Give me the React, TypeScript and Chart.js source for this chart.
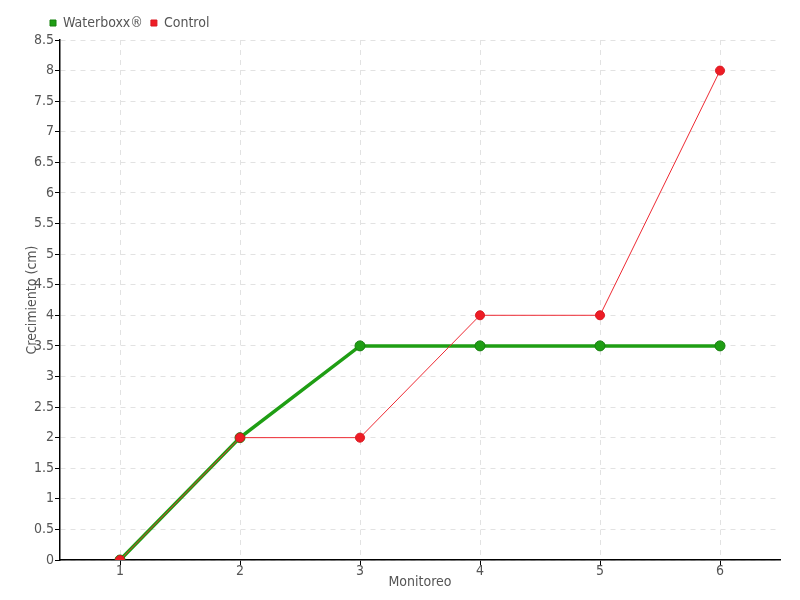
import React, { useEffect, useRef } from "react";
import { Chart, registerables } from "chart.js";

Chart.register(...registerables);

const categories = ["1", "2", "3", "4", "5", "6"];
const waterboxx = [0, 2, 3.5, 3.5, 3.5, 3.5];
const control = [0, 2, 2, 4, 4, 8];

const FONT = "'DejaVu Sans Condensed', 'Liberation Sans Narrow', sans-serif";
const TEXT = "#555555";
const GRID = "#e2e2e2";

const legendShift = {
  id: "legendShift",
  afterLayout(chart: any) {
    if (chart.legend) {
      chart.legend.left += 42;
      chart.legend.right += 42;
    }
  },
};

export default function App() {
  const ref = useRef<HTMLCanvasElement | null>(null);
  useEffect(() => {
    if (!ref.current) return;
    const chart = new Chart(ref.current, {
      type: "line",
      plugins: [legendShift],
      data: {
        labels: categories,
        datasets: [
          {
            label: "Waterboxx®",
            data: waterboxx,
            borderColor: "#1f9e14",
            backgroundColor: "#1f9e14",
            borderWidth: 3.5,
            pointRadius: 5,
            pointBackgroundColor: "#1f9e14",
            pointBorderColor: "#17800f",
            pointBorderWidth: 1,
            order: 1,
          },
          {
            label: "Control",
            data: control,
            borderColor: "#ee2a33",
            backgroundColor: "#ee1c25",
            borderWidth: 1,
            pointRadius: 4.5,
            pointBackgroundColor: "#ee1c25",
            pointBorderColor: "#d81820",
            pointBorderWidth: 1,
            order: 0,
          },
        ],
      },
      options: {
        animation: false,
        responsive: false,
        maintainAspectRatio: false,
        layout: { padding: { left: 0, right: 20, top: 8, bottom: 0 } },
        plugins: {
          legend: {
            position: "top",
            align: "start",
            labels: {
              usePointStyle: true,
              pointStyle: "rect",
              boxWidth: 6,
              boxHeight: 6,
              padding: 8,
              color: TEXT,
              font: { family: FONT, size: 14 },
              sort: (a: any, b: any) => a.datasetIndex - b.datasetIndex,
            },
          },
          tooltip: { enabled: false },
        },
        scales: {
          x: {
            type: "category",
            offset: true,
            grid: {
              offset: false,
              color: GRID,
              tickColor: "#000",
              tickLength: 5,
              drawOnChartArea: true,
            },
            border: { color: "#000", width: 1.5, dash: [5, 5] },
            ticks: { color: TEXT, font: { family: FONT, size: 14 }, padding: -2 },
            title: {
              display: true,
              text: "Monitoreo",
              color: TEXT,
              font: { family: FONT, size: 14 },
              padding: { top: 0, bottom: 9 },
            },
            afterFit: (s: any) => {
              s.height = 40;
            },
          },
          y: {
            min: 0,
            max: 8.5,
            ticks: {
              stepSize: 0.5,
              color: TEXT,
              font: { family: FONT, size: 14 },
              padding: 1,
              callback: (v: any) => String(Number(v)),
            },
            grid: { color: GRID, tickColor: "#000", tickLength: 5 },
            border: { color: "#000", width: 1.5, dash: [5, 5] },
            title: {
              display: true,
              text: "Crecimiento (cm)",
              color: TEXT,
              font: { family: FONT, size: 14 },
              padding: { top: 24, bottom: 0 },
            },
            afterFit: (s: any) => {
              s.width = 60;
            },
          },
        },
      },
    });
    return () => chart.destroy();
  }, []);
  return (
    <div style={{ position: "fixed", left: 0, top: 0, width: 800, height: 600, background: "#fff" }}>
      <canvas ref={ref} width={800} height={600} />
    </div>
  );
}
